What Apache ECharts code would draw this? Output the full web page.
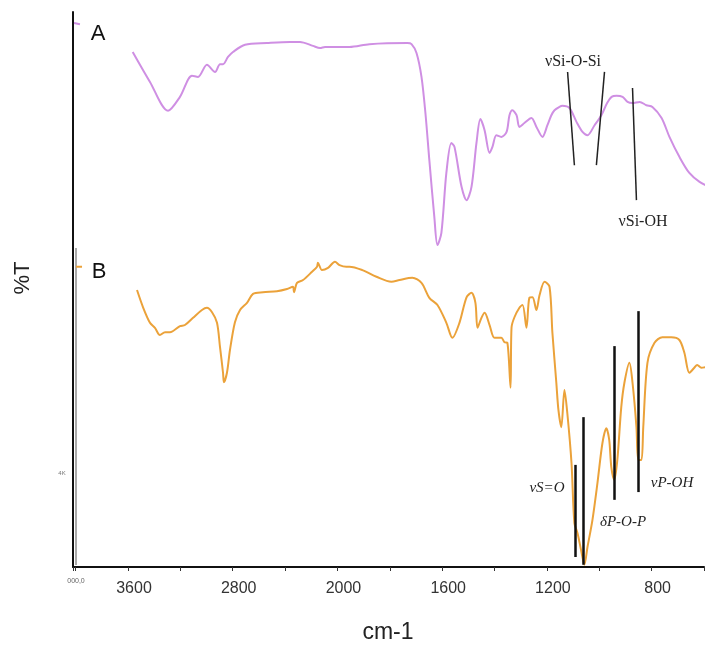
<!DOCTYPE html>
<html>
<head>
<meta charset="utf-8">
<script src="https://cdn.jsdelivr.net/npm/echarts@6/dist/echarts.min.js"></script>
<style>html,body{margin:0;padding:0;background:#fff}#c{width:712px;height:650px}</style>
</head>
<body>
<div id="c"></div>
<script>
// ---- data (wavenumber cm-1, %T in arbitrary offset units) ----
const tickLabels = [3600, 2800, 2000, 1600, 1200, 800];

const edgeA_w = [4012, 3967];
const edgeA_t = [98.0, 97.8];
const edgeB_w = [3997, 3951];
const edgeB_t = [54.1, 54.1];

const specA_w = [3564,3432,3294,3203,3111,3065,2997,2935,2897,2874,2836,2798,2706,2538,2362,2286,2187,2133,2095,2003,
  1954,1878,1733,1717,1698,1679,1664,1649,1630,1618,1603,1584,1565,1553,1526,1507,1488,1469,1454,1438,1419,1408,1393,1374,1354,
  1343,1332,1316,1305,1286,1259,1240,1217,1198,1183,1171,1152,1141,1114,1087,1064,1045,1018,992,970,953,934,911,892,873,846,820,797,
  762,732,694,656,617,571];
const specA_t = [92.8,87.4,82.2,84.7,88.5,88.3,90.5,89.2,90.6,90.6,91.9,92.8,94.1,94.4,94.6,94.6,93.9,93.5,93.7,93.7,
  93.7,94.2,94.4,94.2,92.6,88.3,81.8,73.3,63.1,58.0,60.2,71.0,76.4,75.7,68.5,66.1,68.5,76.4,80.7,78.7,74.6,75.7,77.8,77.5,78.4,
  81.4,82.3,81.4,79.3,80.0,80.9,79.3,77.5,79.6,81.4,82.3,82.9,83.1,82.7,80.2,78.4,77.8,79.6,81.4,83.6,84.7,84.9,84.7,83.8,83.6,83.8,83.2,82.9,
  80.9,77.5,73.9,71.0,69.4,68.3];

const specB_w = [3531,3485,3432,3394,3356,3317,3279,3203,3165,3103,3035,2997,2958,2920,2897,2874,2867,2844,2821,2783,2744,2691,2645,
  2569,2462,2385,2340,2332,2309,2263,2194,2156,2149,2118,2072,2019,1992,1966,1954,1905,1851,1794,1763,1714,1679,1649,1618,1584,1561,
  1534,1507,1488,1473,1465,1450,1438,1419,1400,1374,1362,1351,1339,1335,1324,1305,1293,1278,1267,1255,1240,1228,1209,1190,1179,1164,
  1156,1145,1133,1122,1106,1095,1083,1068,1057,1045,1026,1007,988,973,962,954,943,931,916,904,885,873,858,851,839,832,816,789,759,725,
  694,675,656,637,626,610,595];
const specB_t = [49.9,46.8,44.0,43.1,41.8,42.3,42.3,43.4,43.6,44.9,46.3,46.7,45.9,44.0,39.6,35.0,33.3,35.0,39.1,44.1,46.3,47.6,49.2,
  49.5,49.7,50.1,50.5,49.5,51.2,51.7,53.2,54.1,54.8,53.5,53.9,55.0,54.4,54.1,54.1,53.5,52.3,51.4,51.7,52.1,51.2,48.5,47.2,44.0,41.3,
  44.0,48.6,49.4,47.6,43.1,44.9,45.8,43.6,41.3,41.3,40.5,40.4,32.3,43.2,45.0,46.7,47.2,43.1,48.5,48.6,46.3,49.0,51.4,50.5,42.2,33.2,
  28.3,25.2,31.9,27.7,18.7,7.9,6.1,2.7,0.4,3.6,8.5,15.1,22.3,25.0,22.9,18.0,15.7,19.3,28.8,33.2,36.8,33.2,25.2,19.3,19.3,25.2,36.8,40.4,41.4,41.4,
  40.9,38.6,35.0,35.9,36.4,35.9,36.0];

// annotation segments [w1, t1, w2, t2]
const siLines = [[1121, 89.2, 1095, 72.4], [980, 89.2, 1011, 72.4], [873, 86.3, 858, 66.1]];
const pLines = [[1091, 18.4, 1091, 1.8], [1061, 27.0, 1061, 0.4], [942, 39.8, 942, 12.1], [850, 46.1, 850, 13.5]];

// ---- axis scale: 2x compression above 2000 cm-1 ----
function toAxis(w) { return w <= 2000 ? w : 2000 + (w - 2000) / 2; }
function fromAxis(a) { return a <= 2000 ? a : 2000 + (a - 2000) * 2; }
function pts(ws, ts) { return ws.map((w, i) => [toAxis(w), ts[i]]); }
function segs(list) { return list.map(s => [{coord: [toAxis(s[0]), s[1]]}, {coord: [toAxis(s[2]), s[3]]}]); }

const colA = '#cf8fe3', colB = '#eba23a';
const serif = '"Liberation Serif","DejaVu Serif",serif';
const sans = '"Liberation Sans",Arial,sans-serif';

const chart = echarts.init(document.getElementById('c'));
chart.setOption({
  animation: false,
  backgroundColor: '#fff',
  grid: {left: 73, right: 8, top: 12, bottom: 83},
  xAxis: {
    type: 'value', inverse: true, min: 600, max: 3010, interval: 200,
    axisLine: {show: true, lineStyle: {color: '#111', width: 2}},
    axisTick: {show: true, length: 4, lineStyle: {color: '#333', width: 1}},
    axisLabel: {
      fontFamily: sans, fontSize: 16, color: '#333', margin: 14, padding: [0, 0, 0, 12],
      formatter: v => { const w = Math.round(fromAxis(v)); return tickLabels.includes(w) ? String(w) : ''; }
    },
    splitLine: {show: false}
  },
  yAxis: {
    type: 'value', min: 0, max: 100,
    axisLine: {show: true, lineStyle: {color: '#111', width: 2}},
    axisTick: {show: false}, axisLabel: {show: false}, splitLine: {show: false}
  },
  series: [
    {type: 'line', name: 'A', data: pts(specA_w, specA_t), showSymbol: false, clip: false, smooth: 0.3,
     lineStyle: {color: colA, width: 2}, itemStyle: {color: colA},
     markLine: {silent: true, symbol: ['none', 'none'], label: {show: false},
       lineStyle: {color: '#222', width: 1.5, type: 'solid'}, data: segs(siLines)}},
    {type: 'line', name: 'A0', data: pts(edgeA_w, edgeA_t), showSymbol: false, clip: false,
     lineStyle: {color: colA, width: 2}},
    {type: 'line', name: 'B', data: pts(specB_w, specB_t), showSymbol: false, clip: false, smooth: 0.3,
     lineStyle: {color: colB, width: 2}, itemStyle: {color: colB},
     markLine: {silent: true, symbol: ['none', 'none'], label: {show: false},
       lineStyle: {color: '#111', width: 2.5, type: 'solid'}, data: segs(pLines)}},
    {type: 'line', name: 'B0', data: pts(edgeB_w, edgeB_t), showSymbol: false, clip: false,
     lineStyle: {color: colB, width: 2}}
  ],
  graphic: [
    {type: 'line', shape: {x1: 76, y1: 248, x2: 76, y2: 565}, style: {stroke: '#aaa', lineWidth: 2}, z: 1},
    {type: 'text', x: 98, y: 34, style: {text: 'A', font: '22px ' + sans, fill: '#111', align: 'center', verticalAlign: 'middle'}},
    {type: 'text', x: 99, y: 272, style: {text: 'B', font: '22px ' + sans, fill: '#111', align: 'center', verticalAlign: 'middle'}},
    {type: 'text', x: 23, y: 278, rotation: Math.PI / 2, style: {text: '%T', font: '22px ' + sans, fill: '#222', align: 'center', verticalAlign: 'middle'}},
    {type: 'text', x: 388, y: 633, style: {text: 'cm-1', font: '23px ' + sans, fill: '#222', align: 'center', verticalAlign: 'middle'}},
    {type: 'text', x: 76, y: 581, style: {text: '000,0', font: '7px ' + sans, fill: '#666', align: 'center', verticalAlign: 'middle'}},
    {type: 'text', x: 62, y: 473, style: {text: '4K', font: '6px ' + sans, fill: '#777', align: 'center', verticalAlign: 'middle'}},
    {type: 'text', x: 573, y: 62, style: {text: 'νSi-O-Si', font: '16px ' + serif, fill: '#222', align: 'center', verticalAlign: 'middle'}},
    {type: 'text', x: 643, y: 222, style: {text: 'νSi-OH', font: '16px ' + serif, fill: '#222', align: 'center', verticalAlign: 'middle'}},
    {type: 'text', x: 547, y: 488, style: {text: 'νS=O', font: 'italic 15px ' + serif, fill: '#222', align: 'center', verticalAlign: 'middle'}},
    {type: 'text', x: 623, y: 522, style: {text: 'δP-O-P', font: 'italic 15px ' + serif, fill: '#222', align: 'center', verticalAlign: 'middle'}},
    {type: 'text', x: 672, y: 483, style: {text: 'νP-OH', font: 'italic 15px ' + serif, fill: '#222', align: 'center', verticalAlign: 'middle'}}
  ]
});
</script>
</body>
</html>
